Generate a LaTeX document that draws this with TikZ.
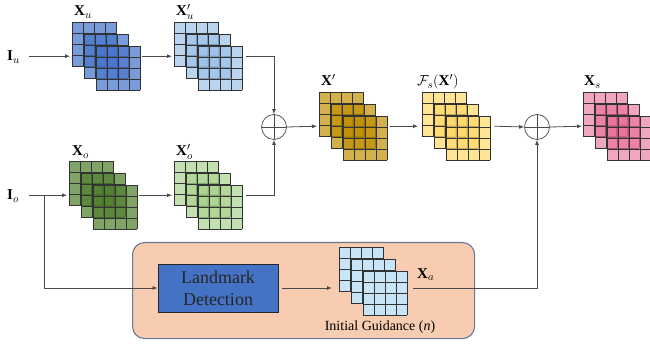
\documentclass[tikz,border=0pt]{standalone}
\usepackage{fontspec}
\setmainfont{Liberation Serif}
\usetikzlibrary{arrows.meta}

% fill colours of the feature-map stacks
\definecolor{cUser}{HTML}{4775CC}
\definecolor{cUserP}{HTML}{9CC2E8}
\definecolor{cObj}{HTML}{4F7F2E}
\definecolor{cObjP}{HTML}{AAD38F}
\definecolor{cMix}{HTML}{BF8F00}
\definecolor{cFs}{HTML}{FFD966}
\definecolor{cOut}{HTML}{E86A96}
\definecolor{cGuide}{HTML}{C8E4F7}
\definecolor{cPanel}{HTML}{F8CCB0}
\definecolor{cPanelEdge}{HTML}{6A7894}
\definecolor{cLand}{HTML}{4472C4}
\definecolor{cWire}{HTML}{4A4A4A}

\tikzset{
  gridline/.style={draw=black!80, line width=0.7pt},
  wire/.style={draw=cWire, line width=0.8pt},
  arr/.style={wire, -{Latex[length=5pt,width=4pt]}},
  lbl/.style={inner sep=0pt, anchor=base west, font=\fontsize{15}{17}\selectfont},
  plus/.style={circle, draw=cWire, line width=0.7pt, minimum size=25pt, inner sep=0pt,
    path picture={\draw[cWire, line width=0.6pt]
      (path picture bounding box.north) -- (path picture bounding box.south)
      (path picture bounding box.west) -- (path picture bounding box.east);}},
}

% three overlapping 4x4 maps; #1 name, #2/#3 top-left, #4 colour, #5 opacity
\newcommand\fmapstack[5]{%
  \foreach \k in {0,1,2} {
    \begin{scope}[shift={(#2+12*\k,#3+12*\k)}]
      \fill[#4, fill opacity=#5] (0,0) rectangle (44,44);
      \foreach \i in {0,1,2,3,4} {
        \draw[gridline] (11*\i,0) -- (11*\i,44);
        \draw[gridline] (0,11*\i) -- (44,11*\i);
      }
    \end{scope}
  }
  \node[inner sep=0pt, minimum width=68pt, minimum height=68pt, anchor=north west] (#1) at (#2,#3) {};
}

\begin{document}
\begin{tikzpicture}[x=1pt, y=-1pt]
\useasboundingbox (0,0) rectangle (650,347);

% guidance panel
\node[draw=cPanelEdge, fill=cPanel, line width=1.1pt, rounded corners=12pt,
      minimum width=342pt, minimum height=96pt, anchor=north west] (panel) at (132,242) {};

% feature-map stacks
\fmapstack{xu}{72}{22}{cUser}{0.72}
\fmapstack{xup}{174}{22}{cUserP}{0.7}
\fmapstack{xo}{69}{161}{cObj}{0.72}
\fmapstack{xop}{174}{161}{cObjP}{0.7}
\fmapstack{xp}{319}{92}{cMix}{0.7}
\fmapstack{fs}{422}{92}{cFs}{0.7}
\fmapstack{xs}{583}{92}{cOut}{0.6}
\fmapstack{xa}{339}{247}{cGuide}{1}

% stack labels
\node[lbl] (lxu)  at (74,16)  {$\mathbf{X}_u$};
\node[lbl] (lxup) at (176,16) {$\mathbf{X}'_u$};
\node[lbl] (lxo)  at (72,156) {$\mathbf{X}_o$};
\node[lbl] (lxop) at (176,156) {$\mathbf{X}'_o$};
\node[lbl] (lxp)  at (321,86) {$\mathbf{X}'$};
\node[lbl] (lfs)  at (417,86) {$\mathcal{F}_s(\mathbf{X}')$};
\node[lbl] (lxs)  at (584,86) {$\mathbf{X}_s$};
\node[lbl] (lxa)  at (417,278) {$\mathbf{X}_a$};

% inputs
\node[lbl] (iu) at (7,61) {$\mathbf{I}_u$};
\node[lbl] (io) at (7,200) {$\mathbf{I}_o$};

% fusion operators
\node[plus] (p1) at (274,127) {};
\node[plus] (p2) at (537,127) {};

% landmark detector
\node[draw=black!85, fill=cLand, line width=0.9pt, minimum width=120pt, minimum height=48pt,
      align=center, inner sep=0pt, text=black!85,
      font=\fontsize{18}{22}\selectfont] (land) at (218,288) {Landmark\\Detection};
\node[inner sep=0pt, font=\fontsize{14}{16}\selectfont] (cap) at (380,327) {Initial Guidance (\textit{n})};

% connectors
\coordinate (split) at (44,195);
\draw[arr] (29,0 |- xu.west) -- ([xshift=-2pt]xu.west);
\draw[arr] ([xshift=2pt]xu.east) -- ([xshift=-2pt]xup.west);
\draw[wire, -{Latex[length=5pt,width=4pt]}] ([xshift=4pt]xup.east) -| (p1.north);
\draw[arr] (29,0 |- xo.west) -- ([xshift=-2pt]xo.west);
\draw[arr] ([xshift=2pt]xo.east) -- ([xshift=-2pt]xop.west);
\draw[wire, -{Latex[length=5pt,width=4pt]}] ([xshift=4pt]xop.east) -| (p1.south);
\draw[arr] (split) |- (land.west);
\draw[arr] (p1.east) -- ([xshift=-2pt]xp.west);
\draw[arr] ([xshift=3pt]xp.east) -- ([xshift=-4pt]fs.west);
\draw[arr] ([xshift=4pt]fs.east) -- (p2.west);
\draw[arr] (p2.east) -- ([xshift=-1pt]xs.west);
\draw[arr] ([xshift=4pt]land.east) -- ([xshift=-7pt]land.east -| xa.west);
\draw[wire, -{Latex[length=5pt,width=4pt]}] ([xshift=6pt]land.east -| xa.east) -| (p2.south);
\end{tikzpicture}
\end{document}
